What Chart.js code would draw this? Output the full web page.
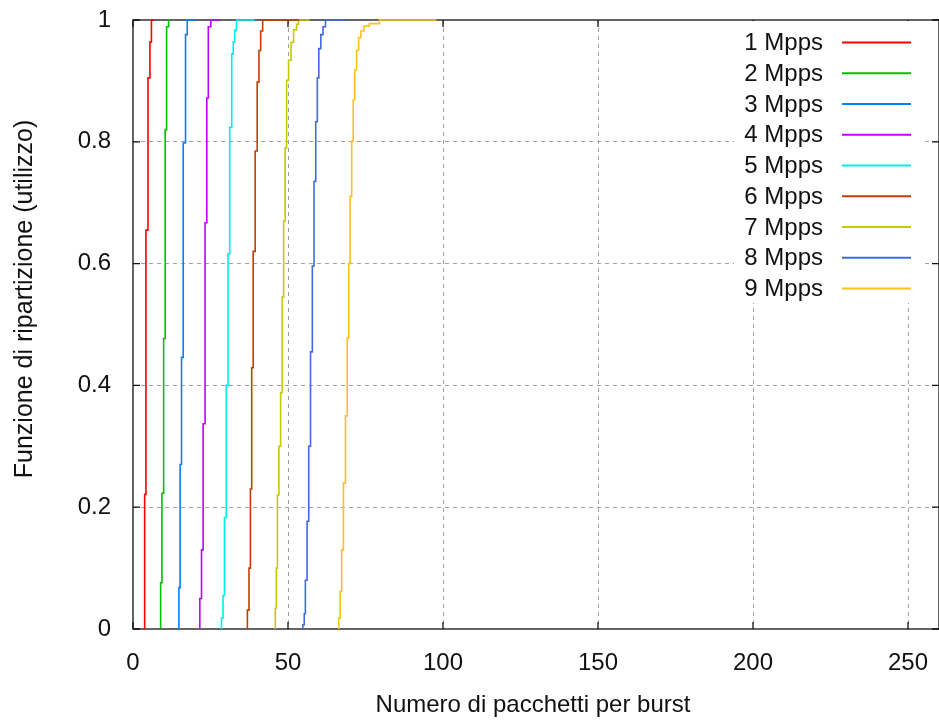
<!DOCTYPE html>
<html>
<head>
<meta charset="utf-8">
<script src="https://cdn.jsdelivr.net/npm/chart.js@4.4.1/dist/chart.umd.min.js"></script>
<style>
  html, body { margin: 0; padding: 0; background: #fff; }
  canvas { display: block; }
</style>
</head>
<body>
<canvas id="cdf" width="939" height="722"></canvas>
<script>
// Empirical CDF of packets per burst, one curve per offered rate.
// Each pair: burst sizes (x) and cumulative fraction reached there (f).
const seriesLabels = ['1 Mpps', '2 Mpps', '3 Mpps', '4 Mpps', '5 Mpps', '6 Mpps', '7 Mpps', '8 Mpps', '9 Mpps'];
const seriesColors = ['#ff0000', '#00c000', '#0080ff', '#c000ff', '#00eeee', '#c04000', '#c8c800', '#4169e1', '#ffc020'];

const x1 = [3.76, 3.76, 4.18, 4.83, 5.47, 5.95, 6.98];
const f1 = [0, 0.221, 0.655, 0.905, 0.964, 1, 1];

const x2 = [8.91, 8.91, 9.33, 9.88, 10.39, 10.84, 11.49, 11.9];
const f2 = [0, 0.076, 0.223, 0.477, 0.820, 0.989, 1, 1];

const x3 = [14.8, 14.8, 15.2, 15.65, 16.2, 16.95, 17.5, 19.95];
const f3 = [0, 0.068, 0.27, 0.446, 0.798, 0.976, 1, 1];

const x4 = [21.56, 21.56, 22.1, 22.62, 23.26, 23.81, 24.29, 25.1, 27.99];
const f4 = [0, 0.05, 0.13, 0.337, 0.667, 0.872, 0.989, 1, 1];

const x5 = [28.54, 28.54, 29.05, 29.5, 30.08, 30.66, 31.21, 31.85, 32.34, 32.82, 33.37, 39.25];
const f5 = [0, 0.018, 0.055, 0.183, 0.40, 0.616, 0.824, 0.944, 0.964, 0.983, 1, 1];

const x6 = [36.9, 36.9, 37.42, 37.87, 38.29, 38.77, 39.41, 40.06, 40.64, 41.18, 41.83, 53.73];
const f6 = [0, 0.031, 0.10, 0.23, 0.429, 0.62, 0.785, 0.898, 0.95, 0.982, 1, 1];

const x7 = [45.91, 45.91, 46.23, 46.59, 47.07, 47.62, 48.1, 48.58, 49.07, 49.55, 50.19, 50.99, 51.8, 52.77, 53.41, 56.95];
const f7 = [0, 0.034, 0.10, 0.22, 0.30, 0.388, 0.545, 0.67, 0.79, 0.901, 0.934, 0.963, 0.984, 0.993, 1, 1];

const x8 = [54.79, 54.79, 55.24, 55.6, 56.15, 56.69, 57.27, 57.85, 58.4, 58.95, 59.46, 59.94, 60.59, 61.29, 62.1, 68.76];
const f8 = [0, 0.007, 0.025, 0.08, 0.177, 0.30, 0.455, 0.596, 0.735, 0.833, 0.905, 0.953, 0.976, 0.989, 1, 1];

const x9 = [66.38, 66.38, 66.83, 67.31, 67.89, 68.53, 69.11, 69.59, 70.01, 70.53, 71.04, 71.53, 72.14, 72.78, 73.52, 74.49, 76.25, 79.47, 97.81];
const f9 = [0, 0.018, 0.062, 0.13, 0.24, 0.35, 0.478, 0.60, 0.71, 0.801, 0.869, 0.918, 0.95, 0.971, 0.982, 0.99, 0.994, 1, 1];

const seriesX = [x1, x2, x3, x4, x5, x6, x7, x8, x9];
const seriesF = [f1, f2, f3, f4, f5, f6, f7, f8, f9];

const xTickValues = [0, 50, 100, 150, 200, 250];
const yTickValues = [0, 0.2, 0.4, 0.6, 0.8, 1];
const xTitle = 'Numero di pacchetti per burst';
const yTitle = 'Funzione di ripartizione (utilizzo)';

const FONT = '"Liberation Sans", Arial, Helvetica, sans-serif';
const GRID = '#a0a0a0';

const datasets = seriesLabels.map((label, i) => ({
  label,
  data: seriesX[i].map((x, k) => ({ x, y: seriesF[i][k] })),
  borderColor: seriesColors[i],
  backgroundColor: seriesColors[i],
  borderWidth: 1.6,
  pointRadius: 0,
  stepped: true,
  fill: false,
  clip: false
}));

function edgeTransparent(lo, hi) {
  return (ctx) => {
    const v = ctx.tick ? ctx.tick.value : null;
    if (v === null) return GRID;
    return (Math.abs(v - lo) < 1e-9 || Math.abs(v - hi) < 1e-9) ? 'rgba(0,0,0,0)' : GRID;
  };
}

// Fixed axis band sizes, no extra room reserved for overhanging labels
function fixBand(prop, size) {
  return (s) => {
    s[prop] = size;
    s.paddingTop = 0; s.paddingBottom = 0; s.paddingLeft = 0; s.paddingRight = 0;
  };
}

const fmt = (v) => String(Math.round(v * 10) / 10);

// Plot frame with inward tick marks on all four sides
const framePlugin = {
  id: 'frame',
  beforeDatasetsDraw(chart) {
    const { ctx, chartArea: a, scales } = chart;
    ctx.save();
    ctx.strokeStyle = '#111';
    ctx.lineWidth = 1.3;
    ctx.setLineDash([]);
    ctx.strokeRect(a.left, a.top, a.right - a.left, a.bottom - a.top);
    const len = 7;
    ctx.beginPath();
    xTickValues.forEach(v => {
      const px = scales.x.getPixelForValue(v);
      ctx.moveTo(px, a.bottom); ctx.lineTo(px, a.bottom - len);
      ctx.moveTo(px, a.top); ctx.lineTo(px, a.top + len);
    });
    yTickValues.forEach(v => {
      const py = scales.y.getPixelForValue(v);
      ctx.moveTo(a.left, py); ctx.lineTo(a.left + len, py);
      ctx.moveTo(a.right, py); ctx.lineTo(a.right - len, py);
    });
    ctx.stroke();
    ctx.restore();
  }
};

// Key in the upper right corner, opaque so the grid does not show through
const keyPlugin = {
  id: 'key',
  afterDatasetsDraw(chart) {
    const { ctx } = chart;
    ctx.save();
    ctx.fillStyle = '#fff';
    ctx.fillRect(734, 21, 190, 282);
    ctx.font = '24px ' + FONT;
    ctx.textAlign = 'right';
    ctx.textBaseline = 'middle';
    seriesLabels.forEach((label, i) => {
      const y = 42.5 + i * 30.75;
      ctx.fillStyle = '#111';
      ctx.fillText(label, 823, y + 1);
      ctx.strokeStyle = seriesColors[i];
      ctx.lineWidth = 1.8;
      ctx.beginPath();
      ctx.moveTo(842, y);
      ctx.lineTo(911, y);
      ctx.stroke();
    });
    ctx.restore();
  }
};

// Axis titles
const titlesPlugin = {
  id: 'titles',
  afterDraw(chart) {
    const { ctx } = chart;
    ctx.save();
    ctx.fillStyle = '#111';
    ctx.textAlign = 'center';
    ctx.textBaseline = 'alphabetic';
    ctx.font = '24px ' + FONT;
    ctx.fillText(xTitle, 533, 712);
    ctx.font = '25px ' + FONT;
    ctx.translate(32, 299);
    ctx.rotate(-Math.PI / 2);
    ctx.fillText(yTitle, 0, 0);
    ctx.restore();
  }
};

new Chart(document.getElementById('cdf'), {
  type: 'line',
  data: { datasets },
  plugins: [framePlugin, keyPlugin, titlesPlugin],
  options: {
    responsive: false,
    animation: false,
    events: [],
    layout: { padding: { left: 0, top: 20, right: -2, bottom: 0 } },
    plugins: { legend: { display: false }, title: { display: false }, tooltip: { enabled: false } },
    scales: {
      x: {
        type: 'linear',
        min: 0,
        max: 260,
        afterBuildTicks: (s) => { s.ticks = xTickValues.map(v => ({ value: v })); },
        afterFit: fixBand('height', 93),
        ticks: { font: { family: FONT, size: 24 }, color: '#111', padding: 20, maxRotation: 0, autoSkip: false, callback: fmt },
        grid: { color: edgeTransparent(0, 260), lineWidth: 1, drawTicks: false },
        border: { display: false, dash: [4, 4] }
      },
      y: {
        type: 'linear',
        min: 0,
        max: 1,
        afterBuildTicks: (s) => { s.ticks = yTickValues.map(v => ({ value: v })); },
        afterFit: fixBand('width', 133),
        ticks: { font: { family: FONT, size: 24 }, color: '#111', padding: 22, autoSkip: false, callback: fmt },
        grid: { color: edgeTransparent(0, 1), lineWidth: 1, drawTicks: false },
        border: { display: false, dash: [4, 4] }
      }
    }
  }
});
</script>
</body>
</html>
